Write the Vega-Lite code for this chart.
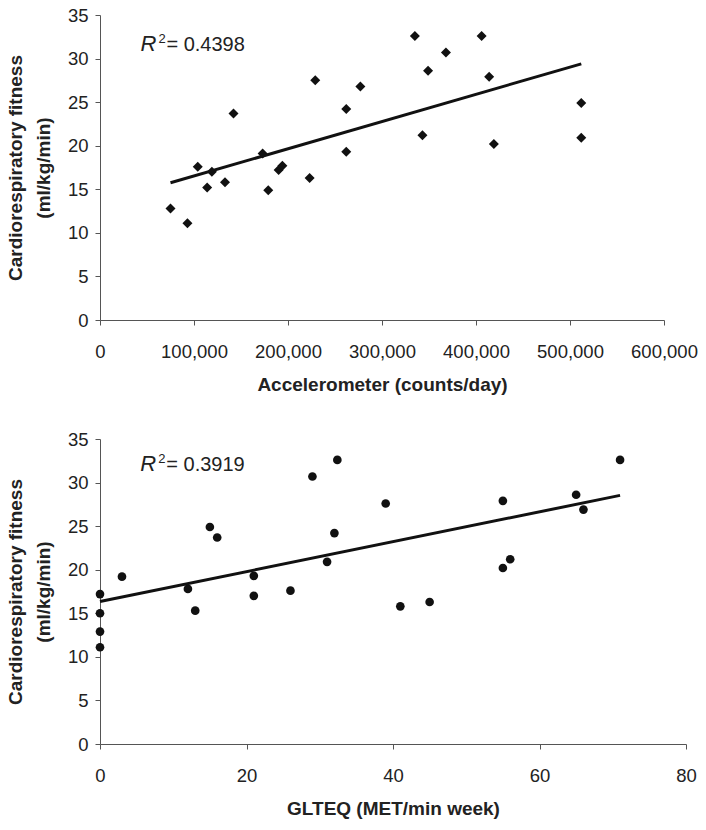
{
  "$schema": "https://vega.github.io/schema/vega-lite/v6.json",
  "padding": {"left": 6, "top": 6, "right": 5, "bottom": 5},
  "background": "white",
  "config": {
    "font": "Liberation Sans",
    "view": {"stroke": null},
    "axis": {"grid": false, "domainColor": "#555", "tickColor": "#555", "tickSize": 5, "labelFontSize": 18.5, "labelColor": "#222", "titleFontSize": 19, "titleFontWeight": "bold", "titleColor": "#222", "labelFont": "Liberation Sans", "titleFont": "Liberation Sans"},
    "axisX": {"labelPadding": 17, "titlePadding": 15, "labelFlush": false},
    "axisY": {"labelPadding": 7, "titlePadding": 14, "titleLineHeight": 28},
    "concat": {"spacing": 35}
  },
  "datasets": {
    "accel": [
      {"counts": 75000, "fitness": 12.8},
      {"counts": 93000, "fitness": 11.1},
      {"counts": 104000, "fitness": 17.6},
      {"counts": 114000, "fitness": 15.2},
      {"counts": 119000, "fitness": 17.0},
      {"counts": 133000, "fitness": 15.8},
      {"counts": 142000, "fitness": 23.7},
      {"counts": 173000, "fitness": 19.1},
      {"counts": 179000, "fitness": 14.9},
      {"counts": 190000, "fitness": 17.2},
      {"counts": 194000, "fitness": 17.7},
      {"counts": 223000, "fitness": 16.3},
      {"counts": 229000, "fitness": 27.5},
      {"counts": 262000, "fitness": 24.2},
      {"counts": 262000, "fitness": 19.3},
      {"counts": 277000, "fitness": 26.8},
      {"counts": 335000, "fitness": 32.6},
      {"counts": 343000, "fitness": 21.2},
      {"counts": 349000, "fitness": 28.6},
      {"counts": 368000, "fitness": 30.7},
      {"counts": 406000, "fitness": 32.6},
      {"counts": 414000, "fitness": 27.9},
      {"counts": 419000, "fitness": 20.2},
      {"counts": 512000, "fitness": 24.9},
      {"counts": 512000, "fitness": 20.9}
    ],
    "glteq": [
      {"met": 0, "fitness": 17.2},
      {"met": 0, "fitness": 15.0},
      {"met": 0, "fitness": 12.9},
      {"met": 0, "fitness": 11.1},
      {"met": 3, "fitness": 19.2},
      {"met": 12, "fitness": 17.8},
      {"met": 13, "fitness": 15.3},
      {"met": 15, "fitness": 24.9},
      {"met": 16, "fitness": 23.7},
      {"met": 21, "fitness": 19.3},
      {"met": 21, "fitness": 17.0},
      {"met": 26, "fitness": 17.6},
      {"met": 29, "fitness": 30.7},
      {"met": 31, "fitness": 20.9},
      {"met": 32, "fitness": 24.2},
      {"met": 32.4, "fitness": 32.6},
      {"met": 39, "fitness": 27.6},
      {"met": 41, "fitness": 15.8},
      {"met": 45, "fitness": 16.3},
      {"met": 55, "fitness": 27.9},
      {"met": 55, "fitness": 20.2},
      {"met": 56, "fitness": 21.2},
      {"met": 65, "fitness": 28.6},
      {"met": 66, "fitness": 26.9},
      {"met": 71, "fitness": 32.6}
    ]
  },
  "vconcat": [
    {
      "width": 564,
      "height": 305,
      "data": {"name": "accel"},
      "layer": [
        {
          "mark": {"type": "point", "shape": "diamond", "filled": true, "color": "#111", "size": 100, "opacity": 1},
          "encoding": {
            "x": {"field": "counts", "type": "quantitative", "scale": {"domain": [0, 600000], "nice": false}, "axis": {"values": [0, 100000, 200000, 300000, 400000, 500000, 600000], "format": ",d", "title": "Accelerometer (counts/day)"}},
            "y": {"field": "fitness", "type": "quantitative", "scale": {"domain": [0, 35], "nice": false}, "axis": {"values": [0, 5, 10, 15, 20, 25, 30, 35], "title": ["Cardiorespiratory fitness", "(ml/kg/min)"]}}
          }
        },
        {
          "transform": [{"regression": "fitness", "on": "counts"}],
          "mark": {"type": "line", "color": "#111", "strokeWidth": 3},
          "encoding": {
            "x": {"field": "counts", "type": "quantitative"},
            "y": {"field": "fitness", "type": "quantitative"}
          }
        },
        {
          "data": {"values": [{}]},
          "mark": {"type": "text", "text": "R", "fontStyle": "italic", "fontSize": 22, "align": "left", "baseline": "alphabetic", "color": "#222"},
          "encoding": {"x": {"datum": 43000, "type": "quantitative"}, "y": {"datum": 30.9, "type": "quantitative"}}
        },
        {
          "data": {"values": [{}]},
          "mark": {"type": "text", "text": "2", "fontSize": 13, "align": "left", "baseline": "alphabetic", "dx": 18, "dy": -8, "color": "#222"},
          "encoding": {"x": {"datum": 43000, "type": "quantitative"}, "y": {"datum": 30.9, "type": "quantitative"}}
        },
        {
          "data": {"values": [{}]},
          "mark": {"type": "text", "text": "= 0.4398", "fontSize": 20, "align": "left", "baseline": "alphabetic", "dx": 26, "color": "#222"},
          "encoding": {"x": {"datum": 43000, "type": "quantitative"}, "y": {"datum": 30.9, "type": "quantitative"}}
        }
      ]
    },
    {
      "width": 586,
      "height": 305,
      "data": {"name": "glteq"},
      "layer": [
        {
          "mark": {"type": "point", "shape": "circle", "filled": true, "color": "#111", "size": 75, "opacity": 1},
          "encoding": {
            "x": {"field": "met", "type": "quantitative", "scale": {"domain": [0, 80], "nice": false}, "axis": {"values": [0, 20, 40, 60, 80], "title": "GLTEQ (MET/min week)"}},
            "y": {"field": "fitness", "type": "quantitative", "scale": {"domain": [0, 35], "nice": false}, "axis": {"values": [0, 5, 10, 15, 20, 25, 30, 35], "title": ["Cardiorespiratory fitness", "(ml/kg/min)"]}}
          }
        },
        {
          "transform": [{"regression": "fitness", "on": "met"}],
          "mark": {"type": "line", "color": "#111", "strokeWidth": 3},
          "encoding": {
            "x": {"field": "met", "type": "quantitative"},
            "y": {"field": "fitness", "type": "quantitative"}
          }
        },
        {
          "data": {"values": [{}]},
          "mark": {"type": "text", "text": "R", "fontStyle": "italic", "fontSize": 22, "align": "left", "baseline": "alphabetic", "color": "#222"},
          "encoding": {"x": {"datum": 5.5, "type": "quantitative"}, "y": {"datum": 31.3, "type": "quantitative"}}
        },
        {
          "data": {"values": [{}]},
          "mark": {"type": "text", "text": "2", "fontSize": 13, "align": "left", "baseline": "alphabetic", "dx": 18, "dy": -8, "color": "#222"},
          "encoding": {"x": {"datum": 5.5, "type": "quantitative"}, "y": {"datum": 31.3, "type": "quantitative"}}
        },
        {
          "data": {"values": [{}]},
          "mark": {"type": "text", "text": "= 0.3919", "fontSize": 20, "align": "left", "baseline": "alphabetic", "dx": 26, "color": "#222"},
          "encoding": {"x": {"datum": 5.5, "type": "quantitative"}, "y": {"datum": 31.3, "type": "quantitative"}}
        }
      ]
    }
  ]
}
